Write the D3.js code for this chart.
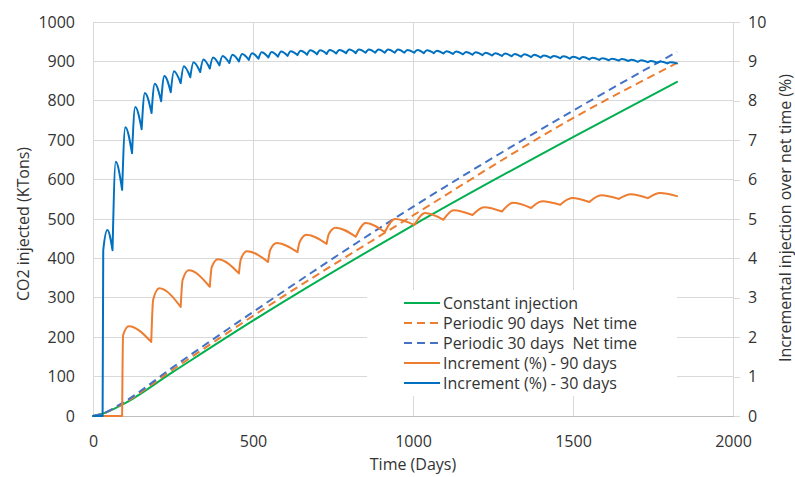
<!DOCTYPE html>
<html lang="en">
<head>
  <meta charset="UTF-8">
  <title>CO2 injection</title>
  <script src="https://d3js.org/d3.v7.min.js"></script>
  <style>
    body { margin: 0; background: #fff; }
    text { font-family: "Open Sans", sans-serif; font-size: 16px; fill: #333; }
    .grid line { stroke: #d9d9d9; stroke-width: 1; shape-rendering: crispEdges; }
    .axis .domain { stroke: #d9d9d9; shape-rendering: crispEdges; }
    .axis .tick line { stroke: #d9d9d9; shape-rendering: crispEdges; }
    .axis text { font-family: "Open Sans", sans-serif; font-size: 16px; fill: #333; }
  </style>
</head>
<body>
  <div id="chart"></div>
  <script>
    // tick labels
    const xTicks = [0, 500, 1000, 1500, 2000];
    const leftTicks = [0, 100, 200, 300, 400, 500, 600, 700, 800, 900, 1000];
    const rightTicks = [0, 1, 2, 3, 4, 5, 6, 7, 8, 9, 10];

    const seriesNames = ["Constant injection", "Periodic 90 days  Net time", "Periodic 30 days  Net time",
      "Increment (%) - 90 days", "Increment (%) - 30 days"];
    const seriesColors = ["#00b050", "#ed7d31", "#4472c4", "#ed7d31", "#0070c0"];
    const seriesDashed = [false, true, true, false, false];

    // KTons vs days (left axis)
    const constantInjection = [[0, 0], [30, 6], [90, 28], [250, 112], [500, 242], [1000, 484], [1500, 708], [1825, 848]];
    const periodic90 = [[0, 0], [30, 6], [90, 30], [250, 118], [500, 254], [1000, 509], [1500, 756], [1825, 896]];
    const periodic30 = [[0, 0], [30, 6], [90, 32], [250, 124], [500, 264], [1000, 531], [1500, 775], [1825, 924]];

    // % vs days (right axis)
    const increment90 = [[0, 0], [91, 0], [94, 2.05], [112, 2.28],
      [182, 1.88], [188, 2.95], [207, 3.24],
      [274, 2.77], [280, 3.45], [299, 3.70],
      [365, 3.28], [371, 3.78], [390, 3.98],
      [456, 3.62], [462, 3.98], [481, 4.18],
      [547, 3.91], [554, 4.22], [574, 4.39],
      [639, 4.16], [646, 4.42], [667, 4.60],
      [730, 4.37], [737, 4.62], [758, 4.78],
      [821, 4.55], [852, 4.90],
      [912, 4.67], [944, 5.00],
      [1004, 4.85], [1038, 5.15],
      [1095, 4.98], [1127, 5.22],
      [1186, 5.10], [1222, 5.30],
      [1278, 5.19], [1312, 5.41],
      [1369, 5.28], [1404, 5.45],
      [1460, 5.36], [1497, 5.53],
      [1551, 5.43], [1588, 5.60],
      [1643, 5.51], [1680, 5.63],
      [1734, 5.53], [1772, 5.66],
      [1825, 5.58]];

    const increment30 = [[0, 0], [30, 0], [32, 4.2], [45, 4.72],
      [61, 4.21], [71, 6.45], [91, 5.74], [101, 7.33], [122, 6.67], [132, 7.84],
      [152, 7.28], [162, 8.20], [183, 7.69], [193, 8.43], [213, 7.99], [223, 8.63],
      [243, 8.22], [253, 8.75], [274, 8.45], [284, 8.88], [304, 8.60], [314, 8.98],
      [335, 8.73], [345, 9.05], [365, 8.82], [375, 9.10], [395, 8.90], [405, 9.14],
      [426, 8.96], [436, 9.17], [456, 9.00], [466, 9.19], [487, 9.04], [497, 9.21],
      [517, 9.07], [527, 9.23], [548, 9.10], [558, 9.24], [578, 9.12], [588, 9.25],
      [608, 9.14], [618, 9.26], [639, 9.16], [649, 9.27], [669, 9.17], [679, 9.28],
      [700, 9.18], [710, 9.28], [730, 9.19], [740, 9.29], [760, 9.20], [770, 9.29],
      [791, 9.21], [801, 9.30], [821, 9.21], [831, 9.30], [852, 9.22], [862, 9.30],
      [882, 9.22], [892, 9.30], [912, 9.22], [922, 9.30], [943, 9.22], [953, 9.30],
      [973, 9.22], [983, 9.29], [1004, 9.22], [1014, 9.29], [1034, 9.21], [1044, 9.28],
      [1065, 9.21], [1075, 9.27], [1095, 9.20], [1105, 9.26], [1125, 9.19], [1135, 9.25],
      [1156, 9.18], [1166, 9.24], [1186, 9.17], [1196, 9.23], [1217, 9.16], [1227, 9.22],
      [1247, 9.15], [1257, 9.21], [1278, 9.14], [1288, 9.20], [1308, 9.13], [1318, 9.19],
      [1338, 9.12], [1348, 9.18], [1369, 9.11], [1379, 9.17], [1399, 9.10], [1409, 9.15],
      [1430, 9.09], [1440, 9.14], [1460, 9.08], [1470, 9.13], [1490, 9.07], [1500, 9.12],
      [1521, 9.06], [1531, 9.11], [1551, 9.05], [1561, 9.09], [1582, 9.04], [1592, 9.08],
      [1612, 9.03], [1622, 9.07], [1643, 9.02], [1653, 9.06], [1673, 9.01], [1683, 9.04],
      [1703, 8.99], [1713, 9.03], [1734, 8.98], [1744, 9.01], [1764, 8.97], [1774, 9.00],
      [1795, 8.95], [1805, 8.98], [1825, 8.95]];

    const width = 795, height = 477;
    const margin = {top: 22, right: 62, bottom: 61, left: 93};

    const svg = d3.select("#chart").append("svg")
      .attr("width", width)
      .attr("height", height);

    const x = d3.scaleLinear().domain([0, 2000]).range([margin.left, width - margin.right]);
    const yLeft = d3.scaleLinear().domain([0, 1000]).range([height - margin.bottom, margin.top]);
    const yRight = d3.scaleLinear().domain([0, 10]).range([height - margin.bottom, margin.top]);

    // gridlines
    const grid = svg.append("g").attr("class", "grid");
    grid.selectAll(".h").data(leftTicks.slice(1)).join("line")
      .attr("x1", x(0)).attr("x2", x(2000))
      .attr("y1", d => yLeft(d)).attr("y2", d => yLeft(d));
    grid.selectAll(".v").data(xTicks.slice(1, -1)).join("line")
      .attr("x1", d => x(d)).attr("x2", d => x(d))
      .attr("y1", yLeft(0)).attr("y2", yLeft(1000));

    const fmt = d3.format("d");

    svg.append("g").attr("class", "axis")
      .attr("transform", `translate(${margin.left},0)`)
      .call(d3.axisLeft(yLeft).tickValues(leftTicks).tickFormat(fmt).tickSize(0).tickSizeOuter(0).tickPadding(18));

    svg.append("g").attr("class", "axis")
      .attr("transform", `translate(${width - margin.right},0)`)
      .call(d3.axisRight(yRight).tickValues(rightTicks).tickFormat(fmt).tickSize(7).tickSizeOuter(0).tickPadding(8));

    const xAxis = svg.append("g").attr("class", "axis")
      .attr("transform", `translate(0,${height - margin.bottom})`)
      .call(d3.axisBottom(x).tickValues(xTicks).tickFormat(fmt).tickSize(0).tickSizeOuter(0).tickPadding(20));
    xAxis.select(".domain").style("stroke", "#bfbfbf");

    // split sawtooth series at its cusps so they stay sharp
    function splitArches(points) {
      const parts = [];
      let cur = [points[0]];
      for (let i = 1; i < points.length; i++) {
        cur.push(points[i]);
        const next = points[i + 1];
        if (next && next[1] > points[i][1] && points[i - 1][1] >= points[i][1]) {
          parts.push(cur);
          cur = [points[i]];
        }
      }
      parts.push(cur);
      return parts;
    }

    const lineLeft = d3.line().x(d => x(d[0])).y(d => yLeft(d[1])).curve(d3.curveMonotoneX);
    const lineRight = d3.line().x(d => x(d[0])).y(d => yRight(d[1])).curve(d3.curveMonotoneX);

    const paths = [
      lineLeft(constantInjection),
      lineLeft(periodic90),
      lineLeft(periodic30),
      splitArches(increment90).map(p => lineRight(p)).join(""),
      splitArches(increment30).map(p => lineRight(p)).join("")
    ];

    svg.append("g").selectAll("path").data(paths).join("path")
      .attr("d", d => d)
      .attr("fill", "none")
      .attr("stroke", (d, i) => seriesColors[i])
      .attr("stroke-width", 2)
      .attr("stroke-linecap", (d, i) => seriesDashed[i] ? "butt" : "round")
      .attr("stroke-linejoin", "round")
      .attr("stroke-dasharray", (d, i) => seriesDashed[i] ? "8,5" : null);

    // legend
    const legend = svg.append("g").attr("transform", "translate(367,290)");
    legend.append("rect").attr("width", 310).attr("height", 106).attr("fill", "#fff");
    const rows = legend.selectAll("g").data(seriesNames).join("g")
      .attr("transform", (d, i) => `translate(0,${13 + i * 20})`);
    rows.append("line")
      .attr("x1", 37).attr("x2", 73)
      .attr("stroke", (d, i) => seriesColors[i])
      .attr("stroke-width", 2)
      .attr("stroke-dasharray", (d, i) => seriesDashed[i] ? "8,5" : null);
    rows.append("text")
      .attr("x", 76)
      .attr("dominant-baseline", "central")
      .style("white-space", "pre")
      .text(d => d);

    // axis titles
    svg.append("text")
      .attr("x", x(1000)).attr("y", 464)
      .attr("text-anchor", "middle").attr("dominant-baseline", "central")
      .text("Time (Days)");
    svg.append("text")
      .attr("transform", "translate(23,224) rotate(-90)")
      .attr("text-anchor", "middle").attr("dominant-baseline", "central")
      .text("CO2 injected (KTons)");
    svg.append("text")
      .attr("transform", "translate(785,218) rotate(-90)")
      .attr("text-anchor", "middle").attr("dominant-baseline", "central")
      .text("Incremental injection over net time (%)");
  </script>
</body>
</html>
